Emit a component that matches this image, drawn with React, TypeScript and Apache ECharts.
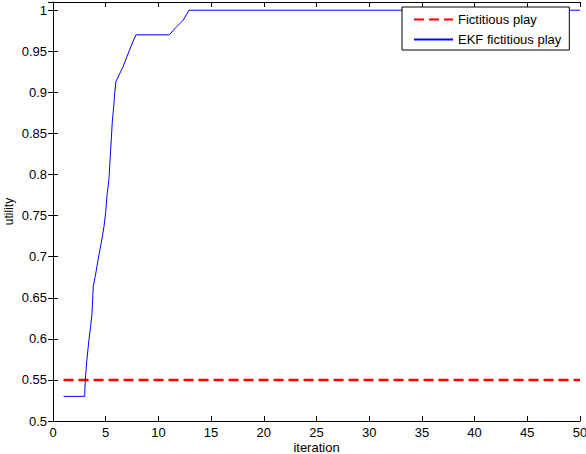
import React, { useEffect, useRef } from "react";
import * as echarts from "echarts";

const ekfIteration = [1, 3, 3.07, 3.19, 3.41, 3.57, 3.7, 3.82, 4.01, 4.33, 4.58, 4.84, 4.99, 5.15, 5.31, 5.47, 5.62, 5.76, 5.85, 5.97, 6.26, 6.67, 7.18, 7.52, 7.87, 11.03, 11.66, 12.36, 12.9, 50];
const ekfUtility = [0.53, 0.53, 0.551, 0.571, 0.599, 0.615, 0.631, 0.664, 0.676, 0.7, 0.717, 0.737, 0.753, 0.778, 0.794, 0.83, 0.863, 0.883, 0.899, 0.913, 0.921, 0.932, 0.949, 0.96, 0.97, 0.97, 0.979, 0.988, 1.0, 1.0];
const fictIteration = [1, 50];
const fictUtility = [0.55, 0.55];
const seriesNames = ["Fictitious play", "EKF fictitious play"];

const FONT = "'Liberation Sans', Arial, sans-serif";

export default function App() {
  const ref = useRef<HTMLDivElement>(null);
  useEffect(() => {
    if (!ref.current) return;
    const chart = echarts.init(ref.current, undefined, { renderer: "svg" });
    const tickStyle = { show: true, inside: true, length: 5, lineStyle: { color: "#000", width: 1 } };
    const lineStyle = { show: true, lineStyle: { color: "#000", width: 1 } };
    chart.setOption({
      animation: false,
      backgroundColor: "#fff",
      textStyle: { fontFamily: FONT },
      grid: { left: 53, right: 6, top: 2, bottom: 33, containLabel: false, outerBoundsMode: "none" },
      legend: {
        orient: "vertical",
        left: 402,
        top: 7,
        padding: [6, 8, 4, 11],
        itemGap: 7,
        itemWidth: 39,
        itemHeight: 14,
        backgroundColor: "#fff",
        borderColor: "#000",
        borderWidth: 1,
        borderRadius: 0,
        itemStyle: { opacity: 0 },
        textStyle: { fontSize: 13, color: "#000", fontFamily: FONT },
        data: seriesNames,
      },
      xAxis: [
        {
          type: "value",
          min: 0,
          max: 50,
          interval: 5,
          name: "iteration",
          nameLocation: "middle",
          nameGap: 19,
          nameMoveOverlap: false,
          nameTextStyle: { fontSize: 13, color: "#000", fontFamily: FONT, lineHeight: 14 },
          axisLine: lineStyle,
          axisTick: tickStyle,
          axisLabel: { fontSize: 13, color: "#000", margin: 5, fontFamily: FONT },
          splitLine: { show: false },
        },
        {
          type: "value",
          position: "top",
          min: 0,
          max: 50,
          interval: 5,
          axisLine: lineStyle,
          axisTick: tickStyle,
          axisLabel: { show: false },
          splitLine: { show: false },
        },
      ],
      yAxis: [
        {
          type: "value",
          min: 0.5,
          max: 1.01,
          interval: 0.05,
          name: "utility",
          nameLocation: "middle",
          nameGap: 38,
          nameMoveOverlap: false,
          nameTextStyle: { fontSize: 12, color: "#000", fontFamily: FONT, lineHeight: 13 },
          axisLine: lineStyle,
          axisTick: tickStyle,
          axisLabel: {
            fontSize: 13,
            color: "#000",
            margin: 6,
            fontFamily: FONT,
            formatter: (v: number) => (v > 1.001 ? "" : String(Math.round(v * 100) / 100)),
          },
          splitLine: { show: false },
        },
        {
          type: "value",
          position: "right",
          min: 0.5,
          max: 1.01,
          interval: 0.05,
          axisLine: lineStyle,
          axisTick: tickStyle,
          axisLabel: { show: false },
          splitLine: { show: false },
        },
      ],
      series: [
        {
          name: seriesNames[0],
          type: "line",
          xAxisIndex: 0,
          yAxisIndex: 0,
          symbol: "none",
          showSymbol: false,
          lineStyle: { color: "#ff0000", width: 2.5, type: [10, 5] },
          itemStyle: { color: "#ff0000" },
          data: fictIteration.map((x, i) => [x, fictUtility[i]]),
          z: 2,
        },
        {
          name: seriesNames[1],
          type: "line",
          xAxisIndex: 0,
          yAxisIndex: 0,
          symbol: "none",
          showSymbol: false,
          lineStyle: { color: "#0000ff", width: 1 },
          itemStyle: { color: "#0000ff" },
          data: ekfIteration.map((x, i) => [x, ekfUtility[i]]),
          z: 3,
        },
      ],
    });
    return () => chart.dispose();
  }, []);
  return <div ref={ref} style={{ width: 586, height: 454, position: "fixed", left: 0, top: 0 }} />;
}
